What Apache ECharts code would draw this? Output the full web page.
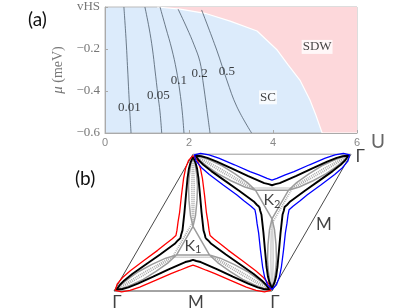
<!DOCTYPE html>
<html><head><meta charset="utf-8">
<script src="https://cdn.jsdelivr.net/npm/echarts@6/dist/echarts.min.js"></script>
<style>html,body{margin:0;padding:0;background:#fff}#c{width:411px;height:308px}</style>
</head><body><div id="c"></div>
<script>
// ---------- Panel (a): phase diagram (U, mu) ----------
const uRange = [0, 6];
const muRange = [-0.6, 0];           // top value 0 is labelled "vHS"
const sdwBoundary = [[1.24,0],[1.79,-0.01],[2.38,-0.03],[2.98,-0.067],[3.62,-0.114],[4.10,-0.205],[4.36,-0.276],[4.64,-0.348],[4.88,-0.443],[5.02,-0.514],[5.17,-0.6],[6,-0.6]];
const contour001 = [[0.45,0],[0.50,-0.15],[0.54,-0.3],[0.58,-0.46],[0.62,-0.6]];
const contour005 = [[0.95,0],[1.05,-0.1],[1.13,-0.2],[1.19,-0.3],[1.26,-0.42],[1.31,-0.5],[1.35,-0.6]];
const contour01  = [[1.31,0],[1.45,-0.1],[1.59,-0.2],[1.70,-0.3],[1.78,-0.4],[1.84,-0.5],[1.88,-0.6]];
const contour02  = [[1.74,-0.01],[1.95,-0.1],[2.12,-0.18],[2.26,-0.26],[2.33,-0.35],[2.42,-0.48],[2.5,-0.6]];
const contour05  = [[2.30,-0.014],[2.66,-0.205],[2.90,-0.348],[3.14,-0.475],[3.49,-0.6]];
const contourLabels = [['0.01',0.58,-0.478],['0.05',1.27,-0.422],['0.1',1.76,-0.348],['0.2',2.25,-0.319],['0.5',2.90,-0.308]];
const phaseLabels = [['SC',3.88,-0.43],['SDW',5.05,-0.19]];

// ---------- Panel (b): Brillouin zone + Fermi surfaces ----------
// BZ rhombus in units of reciprocal lattice length
const bzOutline = [[0.5,0.866],[0,0],[1,0],[1.5,0.866]];
const bzTopEdge = [[0.5,0.866],[1.5,0.866]];
const bzPointLabels = [['Γ',0,0,'bottom'],['M',0.5,0,'bottom'],['Γ',1,0,'bottom'],['Γ',1.5,0.866,'right'],['M',1.25,0.433,'right']];
const kPoints = [['1',0.5,0.2887],['2',1.0,0.5774]];
// Fermi contours around K, polar form [radius, angle deg]
const outerFS = [[0.125,30],[0.139,43],[0.178,58],[0.226,68],[0.325,77],[0.428,82],[0.490,84.5],[0.539,87],[0.568,90],[0.539,93],[0.490,95.5],[0.428,98],[0.325,103],[0.226,112],[0.178,122],[0.139,137],
 [0.125,150],[0.139,163],[0.178,178],[0.226,188],[0.325,197],[0.428,202],[0.490,204.5],[0.539,207],[0.568,210],[0.539,213],[0.490,215.5],[0.428,218],[0.325,223],[0.226,232],[0.178,242],[0.139,257],
 [0.125,270],[0.139,283],[0.178,298],[0.226,308],[0.325,317],[0.428,322],[0.490,324.5],[0.539,327],[0.568,330],[0.539,333],[0.490,335.5],[0.428,338],[0.325,343],[0.226,352],[0.178,2],[0.139,17],[0.125,30]];
const middleFS = [[0.092,30],[0.101,42],[0.116,55],[0.216,75.5],[0.320,82],[0.425,85.3],[0.488,87],[0.525,88.3],[0.560,90],[0.525,91.7],[0.488,93],[0.425,94.7],[0.320,98],[0.216,104.5],[0.116,125],[0.101,138],
 [0.092,150],[0.101,162],[0.116,175],[0.216,195.5],[0.320,202],[0.425,205.3],[0.488,207],[0.525,208.3],[0.560,210],[0.525,211.7],[0.488,213],[0.425,214.7],[0.320,218],[0.216,224.5],[0.116,245],[0.101,258],
 [0.092,270],[0.101,282],[0.116,295],[0.216,315.5],[0.320,322],[0.425,325.3],[0.488,327],[0.525,328.3],[0.560,330],[0.525,331.7],[0.488,333],[0.425,334.7],[0.320,338],[0.216,344.5],[0.116,5],[0.101,18],[0.092,30]];
const innerFS = [[0.120,90],[0.190,94.8],[0.286,95.1],[0.381,94.3],[0.456,92.8],[0.519,91.4],[0.551,90],[0.519,88.6],[0.456,87.2],[0.381,85.7],[0.286,84.9],[0.190,85.2],[0.120,90],
 [0.120,210],[0.190,214.8],[0.286,215.1],[0.381,214.3],[0.456,212.8],[0.519,211.4],[0.551,210],[0.519,208.6],[0.456,207.2],[0.381,205.7],[0.286,204.9],[0.190,205.2],[0.120,210],
 [0.120,330],[0.190,334.8],[0.286,335.1],[0.381,334.3],[0.456,332.8],[0.519,331.4],[0.551,330],[0.519,328.6],[0.456,327.2],[0.381,325.7],[0.286,324.9],[0.190,325.2],[0.120,330],[0.120,90]];
const innerCore = [[0.150,90],[0.200,91.3],[0.285,91.3],[0.380,91.1],[0.456,90.7],[0.519,90.3],[0.545,90],[0.519,89.7],[0.456,89.3],[0.380,88.9],[0.285,88.7],[0.200,88.7],[0.150,90],
 [0.150,210],[0.200,211.3],[0.285,211.3],[0.380,211.1],[0.456,210.7],[0.519,210.3],[0.545,210],[0.519,209.7],[0.456,209.3],[0.380,208.9],[0.285,208.7],[0.200,208.7],[0.150,210],
 [0.150,330],[0.200,331.3],[0.285,331.3],[0.380,331.1],[0.456,330.7],[0.519,330.3],[0.545,330],[0.519,329.7],[0.456,329.3],[0.380,328.9],[0.285,328.7],[0.200,328.7],[0.150,330]];

const SERIF = '"Liberation Serif", "DejaVu Serif", serif';
const SANS = 'Lato, "Open Sans", sans-serif';

function pocketSeries(polarIndex, outerColor) {
  return [
    {type:'line', coordinateSystem:'polar', polarIndex, data: innerCore, symbol:'none', silent:true,
     lineStyle:{color:'#a8a8a8', width:1.6, type:[1,1]}, z:3},
    {type:'line', coordinateSystem:'polar', polarIndex, data: innerFS, symbol:'none', silent:true,
     lineStyle:{color:'#9c9c9c', width:1.5}, z:3},
    {type:'line', coordinateSystem:'polar', polarIndex, data: middleFS, symbol:'none', silent:true,
     lineStyle:{color:'#000', width:1.9}, z:4},
    {type:'line', coordinateSystem:'polar', polarIndex, data: outerFS, symbol:'none', silent:true,
     lineStyle:{color:outerColor, width:1.3}, z:4}
  ];
}
function contourSeries(data) {
  return {type:'line', xAxisIndex:0, yAxisIndex:0, data, smooth:0.4, symbol:'none', silent:true,
          lineStyle:{color:'#4d5c6b', width:0.8}, z:3};
}

const chart = echarts.init(document.getElementById('c'), null, {renderer:'canvas'});
chart.setOption({
  animation:false,
  grid:[
    {left:105, top:7, width:252, height:126, show:true, backgroundColor:'#dcebfb', borderColor:'#bbb', borderWidth:1},
    {left:114, top:154.2, width:237, height:136.8}
  ],
  xAxis:[
    {gridIndex:0, type:'value', min:uRange[0], max:uRange[1], interval:2, z:5,
     axisLine:{onZero:false, lineStyle:{color:'#aaa'}}, axisTick:{inside:true, length:3, lineStyle:{color:'#aaa'}},
     splitLine:{show:false},
     axisLabel:{fontFamily:'"Liberation Sans", sans-serif', fontSize:11, color:'#888', margin:4}},
    {gridIndex:1, type:'value', min:0, max:1.5, show:false}
  ],
  yAxis:[
    {gridIndex:0, type:'value', min:muRange[0], max:muRange[1], interval:0.2, z:5,
     name:'{i|μ} (meV)', nameLocation:'middle', nameGap:33,
     nameTextStyle:{fontFamily:SERIF, fontSize:14, color:'#777', rich:{i:{fontFamily:SERIF, fontStyle:'italic', fontSize:15, color:'#777'}}},
     axisLine:{onZero:false, lineStyle:{color:'#aaa'}}, axisTick:{inside:true, length:3, lineStyle:{color:'#aaa'}},
     splitLine:{show:false},
     axisLabel:{fontFamily:SERIF, fontSize:13, color:'#777', margin:5,
       formatter:v => Math.abs(v) < 1e-9 ? 'vHS' : v.toFixed(1).replace('-', '−')}},
    {gridIndex:1, type:'value', min:0, max:0.866, show:false}
  ],
  polar:[
    {center:[193,245.4], radius:100},
    {center:[272,199.8], radius:100}
  ],
  radiusAxis:[
    {polarIndex:0, type:'value', min:0, max:0.6329, show:false},
    {polarIndex:1, type:'value', min:0, max:0.6329, show:false}
  ],
  angleAxis:[
    {polarIndex:0, type:'value', min:0, max:360, startAngle:0, clockwise:false, show:false},
    {polarIndex:1, type:'value', min:0, max:360, startAngle:180, clockwise:false, show:false}
  ],
  graphic:[
    {type:'text', left:28, top:10, style:{text:'(a)', font:'19px Lato, sans-serif', fill:'#111'}},
    {type:'text', left:75, top:169, style:{text:'(b)', font:'19px Lato, sans-serif', fill:'#111'}},
    {type:'text', left:371, top:132, style:{text:'U', font:'19px Lato, sans-serif', fill:'#666'}}
  ],
  series:[
    {type:'line', xAxisIndex:0, yAxisIndex:0, data:sdwBoundary, symbol:'none', silent:true,
     lineStyle:{color:'#fff', width:1.2}, areaStyle:{color:'#fdd8db', origin:'end', opacity:1}, z:2},
    contourSeries(contour001), contourSeries(contour005), contourSeries(contour01),
    contourSeries(contour02), contourSeries(contour05),
    {type:'scatter', xAxisIndex:0, yAxisIndex:0, symbolSize:1, itemStyle:{color:'rgba(0,0,0,0)'}, silent:true, z:6,
     data: contourLabels.map(d => ({name:d[0], value:[d[1], d[2]]})),
     label:{show:true, position:'inside', formatter:'{b}', fontFamily:SERIF, fontSize:13, color:'#111'}},
    {type:'scatter', xAxisIndex:0, yAxisIndex:0, symbolSize:1, itemStyle:{color:'rgba(0,0,0,0)'}, silent:true, z:6,
     data: phaseLabels.map(d => ({name:d[0], value:[d[1], d[2]]})),
     label:{show:true, position:'inside', formatter:'{b}', fontFamily:SERIF, fontSize:13, color:'#111',
            backgroundColor:'#fff', padding:[1,1,0,1]}},
    // panel (b)
    {type:'line', xAxisIndex:1, yAxisIndex:1, data:bzOutline, symbol:'none', silent:true, clip:false,
     lineStyle:{color:'#333', width:0.9}, z:2},
    {type:'line', xAxisIndex:1, yAxisIndex:1, data:bzTopEdge, symbol:'none', silent:true, clip:false,
     lineStyle:{color:'#999', width:1}, z:2},
    ...pocketSeries(0, '#ff0000'),
    ...pocketSeries(1, '#0000ff'),
    {type:'scatter', xAxisIndex:1, yAxisIndex:1, symbolSize:1, itemStyle:{color:'rgba(0,0,0,0)'}, silent:true, z:6,
     data: bzPointLabels.map(d => ({name:d[0], value:[d[1], d[2]],
       label:{position:d[3], distance: d[3]==='right' ? 4 : 3, offset: d[3]==='right' ? [0,2] : [3,0]}})),
     label:{show:true, formatter:'{b}', fontFamily:SANS, fontSize:17, color:'#111'}},
    {type:'scatter', xAxisIndex:1, yAxisIndex:1, symbolSize:1, itemStyle:{color:'rgba(0,0,0,0)'}, silent:true, z:6,
     data: kPoints.map(d => ({name:d[0], value:[d[1], d[2]]})),
     label:{show:true, position:'inside', formatter:p => 'K{s|' + p.name + '}', fontFamily:SANS, fontSize:16, color:'#111',
            rich:{s:{fontFamily:SANS, fontSize:11, color:'#111', padding:[9,0,0,0]}}}}
  ]
});
</script></body></html>
